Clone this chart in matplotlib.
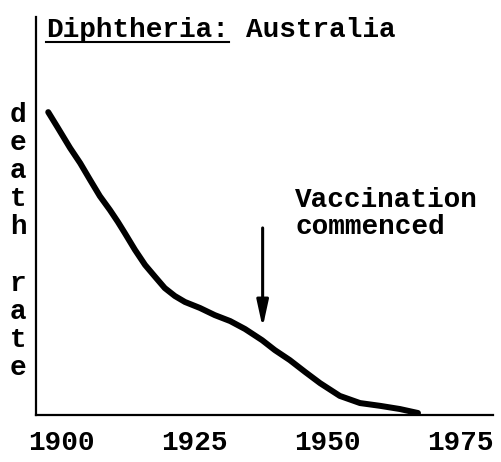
import matplotlib
matplotlib.use("Agg")
import matplotlib.pyplot as plt

plt.rcParams['font.family'] = ['Liberation Mono', 'DejaVu Sans Mono']
plt.rcParams['font.weight'] = 'bold'

# hand-traced curve (arbitrary death-rate units, 0-100)
years = [1897.6, 1899.3, 1901.7, 1903.6, 1905.5, 1907.3, 1909.2, 1910.7, 1912.0,
         1913.9, 1915.8, 1917.7, 1919.5, 1921.4, 1923.3, 1926.1, 1928.9, 1931.8,
         1934.6, 1937.8, 1940.2, 1943.0, 1945.9, 1948.7, 1952.4, 1956.2, 1960.0,
         1963.7, 1967.1]
rate = [76.1, 72.4, 67.1, 63.3, 59.0, 55.0, 51.5, 48.5, 45.7,
        41.5, 37.7, 34.7, 31.9, 29.9, 28.4, 26.9, 25.1, 23.6,
        21.6, 18.8, 16.3, 13.8, 10.8, 8.0, 4.8, 3.0, 2.3,
        1.5, 0.5]
xticks = [1900, 1925, 1950, 1975]
vacc_year = 1937.9
ylabel_letters = ["d", "e", "a", "t", "h", "", "r", "a", "t", "e"]

FS = 20
W, H = 501, 462
fig = plt.figure(figsize=(W / 100, H / 100), dpi=100)
ax = fig.add_axes([36 / W, 1 - 415 / H, (493 - 36) / W, (415 - 17) / H])

ax.plot(years, rate, color='black', lw=4.3, solid_capstyle='round', solid_joinstyle='round')

ax.set_xlim(1895.3, 1981.2)
ax.set_ylim(0, 100)
ax.set_xticks(xticks)
ax.set_xticklabels([str(t) for t in xticks], fontsize=FS, fontweight='bold')
ax.tick_params(axis='x', length=0, pad=11)
ax.set_yticks([])
for s in ['top', 'right']:
    ax.spines[s].set_visible(False)
for s in ['left', 'bottom']:
    ax.spines[s].set_linewidth(1.6)

# arrow marking start of vaccination
ax.annotate('', xy=(vacc_year, 22.0), xytext=(vacc_year, 47.0),
            arrowprops=dict(arrowstyle='-|>,head_length=1.6,head_width=0.35',
                            color='black', lw=2.2, shrinkA=0, shrinkB=0))
ax.text(1944.0, 52.3, "Vaccination", fontsize=FS, fontweight='bold', va='baseline', ha='left')
ax.text(1944.0, 45.6, "commenced", fontsize=FS, fontweight='bold', va='baseline', ha='left')

# title with underlined first word
t1 = fig.text(46 / W, 1 - 37 / H, "Diphtheria:", fontsize=FS, fontweight='bold', va='baseline')
fig.canvas.draw()
bb = t1.get_window_extent()
char_w = bb.width / 11
fig.text((bb.x1 + char_w) / W, 1 - 37 / H, "Australia", fontsize=FS, fontweight='bold', va='baseline')
fig.add_artist(plt.Line2D([bb.x0 / W, bb.x1 / W], [1 - 42 / H, 1 - 42 / H],
                          color='black', lw=1.5, transform=fig.transFigure))

# vertical y label, one letter per line
y0 = 115
for i, ch in enumerate(ylabel_letters):
    if ch:
        fig.text(18 / W, 1 - (y0 + i * 28.1) / H, ch, fontsize=FS, fontweight='bold',
                 ha='center', va='center')

fig.savefig("out.png", dpi=100)
